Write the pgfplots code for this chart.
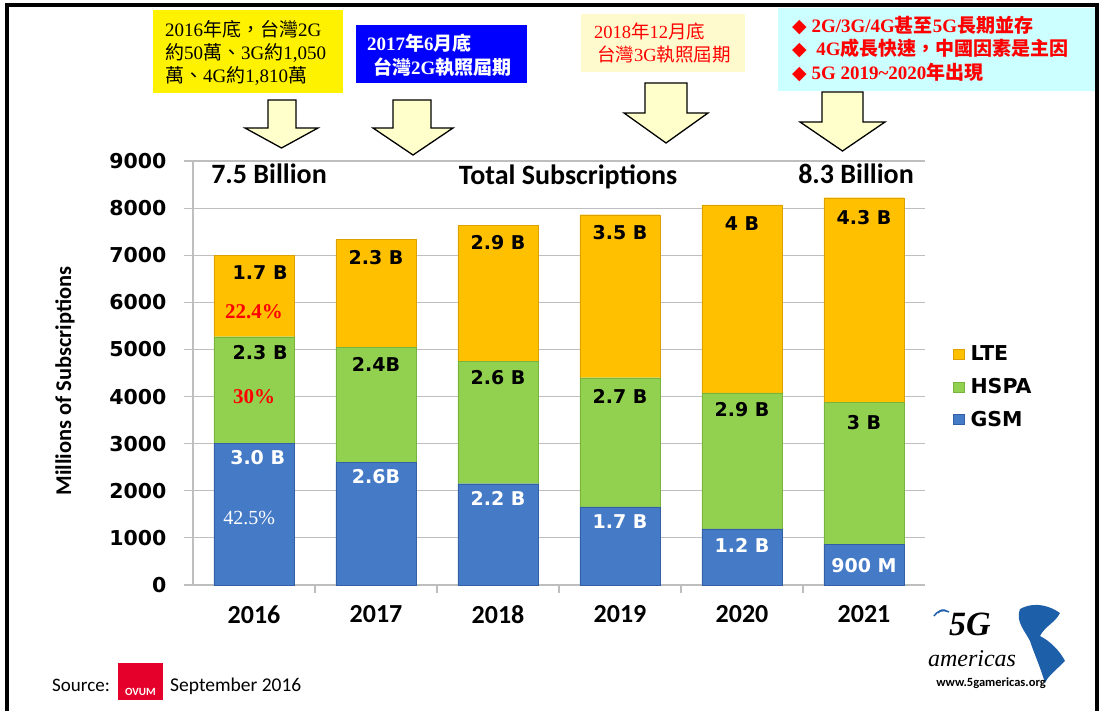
\documentclass[border=0pt]{standalone}
\usepackage{fontspec}
\setmainfont{Carlito}
\newfontfamily\dv{DejaVu Sans}
\newfontfamily\tms{Liberation Serif}
\newfontfamily\zh{Noto Sans CJK TC}
\usepackage{pgfplots}
\pgfplotsset{compat=1.18}

\definecolor{ltec}{RGB}{255,192,0}
\definecolor{lted}{RGB}{220,160,0}
\definecolor{hspac}{RGB}{146,208,80}
\definecolor{hspad}{RGB}{120,180,60}
\definecolor{gsmc}{RGB}{68,122,198}
\definecolor{gsmd}{RGB}{50,95,165}
\definecolor{gridc}{RGB}{190,190,190}
\definecolor{arrowc}{RGB}{255,255,204}
\definecolor{box3}{RGB}{255,250,205}
\definecolor{box4}{RGB}{204,255,255}
\definecolor{ovum}{RGB}{228,0,43}
\definecolor{mapc}{RGB}{30,95,170}

\tikzset{lab/.style={font=\dv\bfseries\fontsize{19}{19}\selectfont, inner sep=0pt}}
\pgfplotsset{frame/.style={at={(193pt,126pt)}, anchor=south west,
  scale only axis, width=732pt, height=424pt,
  xmin=-0.5, xmax=5.5, ymin=0, ymax=9000, clip=false}}

\newcommand\Z[1]{{\zh #1}}
% down arrow: head left, head right, shaft left, shaft right, top, head start, tip (pixel rows)
\newcommand\darrow[7]{%
  \draw[fill=arrowc, line width=1.3pt] (#3,711-#5) -- (#4,711-#5) -- (#4,711-#6) -- (#2,711-#6)
    -- ({(#1+#2)/2},711-#7) -- (#1,711-#6) -- (#3,711-#6) -- cycle;}

\begin{document}
\begin{tikzpicture}
\useasboundingbox (0pt,0pt) rectangle (1104pt,711pt);

\begin{scope}[x=1pt,y=1pt]
% frame
\draw[line width=3.5pt] (7,0) -- (7,706) -- (1097,706) -- (1097,0);

% note boxes
\fill[yellow] (153,618) rectangle (343,701);
\begin{scope}[every node/.style={inner sep=0pt, font=\tms\fontsize{19}{19}\selectfont}]
\node[anchor=base west] at (165,674) {2016\Z{年底，台灣}2G};
\node[anchor=base west] at (165,651) {\Z{約}50\Z{萬、}3G\Z{約}1,050};
\node[anchor=base west] at (165,628) {\Z{萬、}4G\Z{約}1,810\Z{萬}};
\end{scope}

\fill[blue] (356,628) rectangle (527,686);
\begin{scope}[every node/.style={inner sep=0pt, text=white, font=\tms\bfseries\fontsize{19}{19}\selectfont}]
\node[anchor=base west] at (367,660) {2017{\zh\bfseries 年}6{\zh\bfseries 月底}};
\node[anchor=base west] at (373,636) {{\zh\bfseries 台灣}2G{\zh\bfseries 執照屆期}};
\end{scope}

\fill[box3] (581,639) rectangle (745,697);
\begin{scope}[every node/.style={inner sep=0pt, text=red, font=\tms\fontsize{18.5}{18.5}\selectfont}]
\node[anchor=base west] at (594,672) {2018\Z{年}12\Z{月底}};
\node[anchor=base west] at (597,649) {\Z{台灣}3G\Z{執照屆期}};
\end{scope}

\fill[box4] (778,620) rectangle (1095.25,703);
\begin{scope}[every node/.style={inner sep=0pt, text=red, font=\tms\bfseries\fontsize{19}{19}\selectfont}]
\node[anchor=base west] at (792,678) {{\dv ◆} 2G/3G/4G{\zh\bfseries 甚至}5G{\zh\bfseries 長期並存}};
\node[anchor=base west] at (792,655) {{\dv ◆}\ \ 4G{\zh\bfseries 成長快速，中國因素是主因}};
\node[anchor=base west] at (792,631) {{\dv ◆} 5G 2019\textasciitilde2020{\zh\bfseries 年出現}};
\end{scope}

% arrows
\darrow{245}{318}{268}{296}{100}{128}{148}
\darrow{373}{453}{393}{431}{100}{128}{155}
\darrow{624}{708}{645}{687}{83}{113}{143}
\darrow{800}{885}{822}{863}{92}{122}{151}

% header texts
\begin{scope}[every node/.style={inner sep=0pt, font=\bfseries\fontsize{28}{28}\selectfont}]
\node at (269,537) {7.5 Billion};
\node at (568,534) {Total Subscriptions};
\node at (856,537) {8.3 Billion};
\end{scope}

% y label
\node[rotate=90, inner sep=0pt, font=\bfseries\fontsize{22.5}{22.5}\selectfont] at (65,330) {Millions of Subscriptions};

% source
\node[anchor=base west, inner sep=0pt, font=\fontsize{19}{19}\selectfont] at (52,19) {Source:};
\fill[ovum] (118,11) rectangle (163,48);
\node[inner sep=0pt, text=white, font=\bfseries\fontsize{11}{11}\selectfont] at (140.5,19) {OVUM};
\node[anchor=base west, inner sep=0pt, font=\fontsize{19.5}{19.5}\selectfont] at (170,19) {September 2016};

% logo
\fill[mapc] (1020,102) .. controls (1035,110) and (1050,105) .. (1060,98)
  .. controls (1055,88) and (1045,85) .. (1040,75)
  .. controls (1050,70) and (1060,60) .. (1065,50)
  .. controls (1055,40) and (1048,35) .. (1045,28)
  .. controls (1040,45) and (1035,55) .. (1030,70)
  .. controls (1025,80) and (1015,90) .. cycle;
\draw[mapc, line width=1.5pt] (938,98) arc (150:60:6);
\draw[mapc, line width=1.5pt] (934,95) arc (150:60:11);
\node[inner sep=0pt, font=\tms\bfseries\itshape\fontsize{34}{34}\selectfont] at (970,87) {5G};
\node[inner sep=0pt, font=\tms\itshape\fontsize{24}{24}\selectfont] at (972,52) {americas};
\node[inner sep=0pt, font=\bfseries\fontsize{12.5}{12.5}\selectfont] at (991,28) {www.5gamericas.org};
\end{scope}

% bars
\begin{axis}[
  frame,
  ybar stacked, bar width=80pt,
  xtick={0,1,2,3,4,5},
  xticklabels={2016,2017,2018,2019,2020,2021},
  minor xtick={0.5,1.5,2.5,3.5,4.5},
  ytick={0,1000,...,9000},
  axis x line*=bottom, axis y line*=left,
  axis line style={draw=gridc, line width=1.5pt},
  ymajorgrids, grid style={draw=gridc, line width=1.2pt},
  tick align=outside,
  major tick length=9pt, minor tick length=8pt,
  tick style={draw=gridc, line width=1.2pt},
  major x tick style={draw=none},
  scaled y ticks=false,
  /pgf/number format/1000 sep={},
  /pgf/number format/assume math mode=true,
  yticklabel style={font=\dv\bfseries\fontsize{20.5}{20.5}\selectfont, xshift=-14pt},
  xticklabel style={font=\bfseries\fontsize{26}{26}\selectfont, yshift=-8pt},
  reverse legend,
  legend cell align=left,
  legend image code/.code={\draw[#1, line width=0.5pt] (0pt,-5pt) rectangle (11pt,5pt);},
  legend style={at={(1.034,0.467)}, anchor=west, draw=none, fill=none,
    font=\dv\bfseries\fontsize{20.5}{20.5}\selectfont, row sep=12pt,
    /tikz/every odd column/.append style={column sep=4pt}},
]
\addplot[fill=gsmc, draw=gsmd] coordinates {(0,3000) (1,2600) (2,2150) (3,1660) (4,1190) (5,870)};
\addlegendentry{GSM}
\addplot[fill=hspac, draw=hspad] coordinates {(0,2270) (1,2450) (2,2590) (3,2740) (4,2890) (5,3000)};
\addlegendentry{HSPA}
\addplot[fill=ltec, draw=lted] coordinates {(0,1720) (1,2280) (2,2890) (3,3460) (4,3990) (5,4350)};
\addlegendentry{LTE}
\end{axis}

% value labels, same frame on top of the bars
\begin{axis}[frame, hide axis]
% LTE labels
\node[lab] at (axis cs:0.05,6623) {1.7 B};
\node[lab] at (axis cs:1,6941) {2.3 B};
\node[lab] at (axis cs:2,7260) {2.9 B};
\node[lab] at (axis cs:3,7472) {3.5 B};
\node[lab] at (axis cs:4,7663) {4 B};
\node[lab] at (axis cs:5,7790) {4.3 B};
% HSPA labels
\node[lab] at (axis cs:0.05,4925) {2.3 B};
\node[lab] at (axis cs:1,4691) {2.4B};
\node[lab] at (axis cs:2,4394) {2.6 B};
\node[lab] at (axis cs:3,4012) {2.7 B};
\node[lab] at (axis cs:4,3715) {2.9 B};
\node[lab] at (axis cs:5,3439) {3 B};
% GSM labels
\node[lab, text=white] at (axis cs:0.03,2696) {3.0 B};
\node[lab, text=white] at (axis cs:1,2293) {2.6B};
\node[lab, text=white] at (axis cs:2,1847) {2.2 B};
\node[lab, text=white] at (axis cs:3,1337) {1.7 B};
\node[lab, text=white] at (axis cs:4,849) {1.2 B};
\node[lab, text=white] at (axis cs:5,403) {900 M};
% shares 2016
\node[inner sep=0pt, text=red, font=\tms\bfseries\fontsize{21}{21}\selectfont] at (axis cs:0,5795) {22.4\%};
\node[inner sep=0pt, text=red, font=\tms\bfseries\fontsize{21}{21}\selectfont] at (axis cs:0,3991) {30\%};
\node[inner sep=0pt, text=white, font=\tms\fontsize{20}{20}\selectfont] at (axis cs:-0.04,1422) {42.5\%};
\end{axis}
\end{tikzpicture}
\end{document}
